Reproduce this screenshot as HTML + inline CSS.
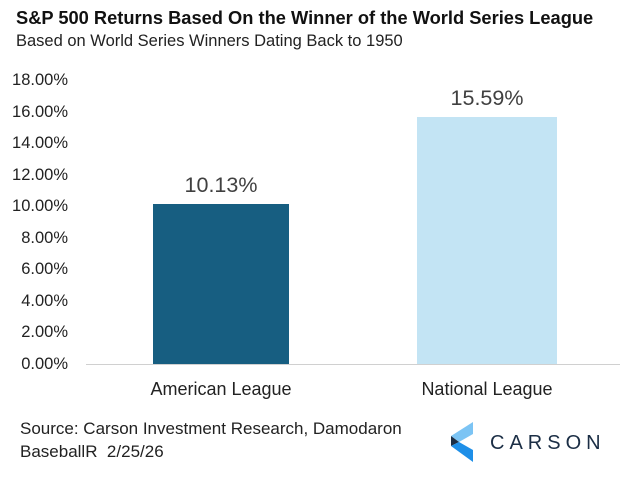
<!DOCTYPE html>
<html><head><style>
body{margin:0;width:624px;height:478px;background:#fff;font-family:"Liberation Sans",sans-serif;position:relative;overflow:hidden}
.a{position:absolute;white-space:nowrap}
.y{position:absolute;right:556px;font-size:16.5px;color:#222;line-height:16px}
</style></head><body>
<div class="a" style="left:16px;top:7px;font-size:18.3px;font-weight:bold;color:#111">S&amp;P 500 Returns Based On the Winner of the World Series League</div>
<div class="a" style="left:16px;top:32px;font-size:16.5px;color:#222">Based on World Series Winners Dating Back to 1950</div>
<div class="y" style="top:72px">18.00%</div>
<div class="y" style="top:103.5px">16.00%</div>
<div class="y" style="top:135px">14.00%</div>
<div class="y" style="top:166.5px">12.00%</div>
<div class="y" style="top:198px">10.00%</div>
<div class="y" style="top:229.5px">8.00%</div>
<div class="y" style="top:261px">6.00%</div>
<div class="y" style="top:292.5px">4.00%</div>
<div class="y" style="top:324px">2.00%</div>
<div class="y" style="top:355.5px">0.00%</div>
<div class="a" style="left:86px;top:364px;width:534px;height:1px;background:#d0d0d0"></div>
<div class="a" style="left:153px;top:204px;width:136px;height:160px;background:#175e81"></div>
<div class="a" style="left:417px;top:117px;width:140px;height:247px;background:#c3e4f4"></div>
<div class="a" style="left:153px;width:136px;text-align:center;top:173px;font-size:21.5px;color:#404040">10.13%</div>
<div class="a" style="left:417px;width:140px;text-align:center;top:86px;font-size:21.5px;color:#404040">15.59%</div>
<div class="a" style="left:121px;width:200px;text-align:center;top:379px;font-size:18px;color:#222">American League</div>
<div class="a" style="left:387px;width:200px;text-align:center;top:379px;font-size:18px;color:#222">National League</div>
<div class="a" style="left:20px;top:417px;font-size:17px;color:#222;line-height:23px">Source: Carson Investment Research, Damodaron<br>BaseballR&nbsp; 2/25/26</div>
<svg class="a" style="left:449px;top:422px" width="28" height="42" viewBox="0 0 28 42">
<polygon points="24,0 24,12 10,20 2,14" fill="#7cc4f4"/>
<polygon points="2,14 10,20 2,24" fill="#1b2e45"/>
<polygon points="2,24 10,20 24,28 24,40" fill="#1e8fe8"/>
</svg>
<div class="a" style="left:490px;top:432px;font-size:20px;letter-spacing:5px;color:#1b2e45">CARSON</div>
</body></html>
